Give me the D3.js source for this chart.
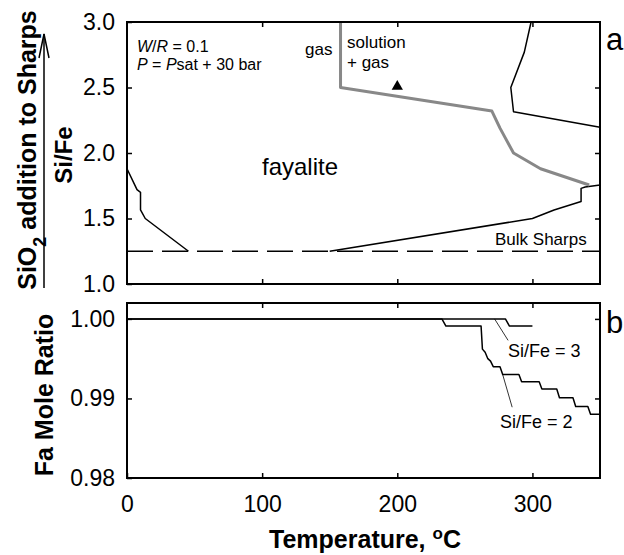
<!DOCTYPE html>
<html>
<head>
<meta charset="utf-8">
<script src="https://cdn.jsdelivr.net/npm/d3@7"></script>
<style>
body { margin: 0; background: #fff; }
svg text { font-family: "Liberation Sans", Arial, sans-serif; fill: #000; }
.axis path { display: none; }
.axis line { stroke: #000; stroke-width: 1.5; }
.axis text { font-size: 23px; }
</style>
</head>
<body>
<div class="chart"></div>
<script>
// temperature ticks and the two y scales
var tempTicks = [0, 100, 200, 300];
var siFeTicks = [1.0, 1.5, 2.0, 2.5, 3.0];
var faTicks = [0.98, 0.99, 1.00];

// panel a: phase boundaries, [T, Si/Fe]
var lowTBoundary = [[0, 1.88], [7.4, 1.72], [10, 1.70], [10, 1.565], [13.5, 1.50], [45.5, 1.25]];
var highTBoundary = [[150, 1.25], [300, 1.50], [316, 1.565], [336, 1.63], [336, 1.73], [339, 1.74], [350, 1.756]];
var upperBoundary = [[299, 3.0], [294, 2.77], [284, 2.50], [286, 2.315], [350, 2.196]];
var gasBoundary = [[158, 3.0], [158, 2.50], [270, 2.32], [276, 2.19], [286, 2.0], [306, 1.88], [342, 1.756]];
var bulkSharps = 1.25;
var samplePoint = [[200, 2.5]];

// panel b: fayalite mole ratio, [T, ratio]
var faSiFe2 = [[0, 1.000], [233, 1.000], [236, 0.9991], [262, 0.9991], [263, 0.9962], [265, 0.9958],
               [267, 0.9950], [269, 0.9947], [271, 0.9940], [276, 0.9940], [278, 0.9930], [290, 0.9930],
               [292, 0.9921], [305, 0.9921], [307, 0.9912], [318, 0.9912], [320, 0.9901], [330, 0.9901],
               [332, 0.9890], [341, 0.9890], [343, 0.9880], [350, 0.9880]];
var faSiFe3 = [[0, 1.000], [280, 1.000], [283, 0.9991], [300, 0.9991]];
var leader3 = [[272, 1.000], [282, 0.9973]];
var leader2 = [[278, 0.9930], [285, 0.9889]];

var W = 624, H = 555;
var svg = d3.select(".chart").append("svg")
            .attr("width", W)
            .attr("height", H);

var x = d3.scaleLinear().domain([0, 350]).range([127, 600]);
var yTop = d3.scaleLinear().domain([1, 3]).range([284, 22]);
var yBot = d3.scaleLinear().domain([0.98, 1.002]).range([478, 303]);

function drawFrame(y) {
	var r = y.range();
	svg.append("rect")
	   .attr("x", x.range()[0])
	   .attr("y", r[1])
	   .attr("width", x.range()[1] - x.range()[0])
	   .attr("height", r[0] - r[1])
	   .style("fill", "none")
	   .style("stroke", "#000")
	   .style("stroke-width", 2);
}

function drawLine(data, y, color, width, dash) {
	var line = d3.line().x(function(d) { return x(d[0]); }).y(function(d) { return y(d[1]); });
	svg.append("path")
	   .datum(data)
	   .attr("d", line)
	   .style("fill", "none")
	   .style("stroke", color)
	   .style("stroke-width", width)
	   .style("stroke-dasharray", dash || null)
	   .style("stroke-linejoin", "round");
}

// ---- panel a ----
var yr = yTop.range();
svg.append("g").attr("class", "axis")
   .attr("transform", "translate(127,0)")
   .call(d3.axisLeft(yTop).tickValues(siFeTicks).tickSize(-5).tickPadding(12).tickFormat(d3.format(".1f")));
svg.append("g").attr("class", "axis")
   .attr("transform", "translate(600,0)")
   .call(d3.axisRight(yTop).tickValues([1.5, 2.0, 2.5]).tickSize(-5).tickFormat(""));
svg.append("g").attr("class", "axis")
   .attr("transform", "translate(0," + yr[1] + ")")
   .call(d3.axisTop(x).tickValues([100, 200, 300]).tickSize(-5).tickFormat(""));
svg.append("g").attr("class", "axis")
   .attr("transform", "translate(0," + yr[0] + ")")
   .call(d3.axisBottom(x).tickValues([100, 200, 300]).tickSize(-5).tickFormat(""));

drawLine([[0, bulkSharps], [350, bulkSharps]], yTop, "#000", 1.3, "26,9");
drawLine(lowTBoundary, yTop, "#000", 1.5);
drawLine(highTBoundary, yTop, "#000", 1.5);
drawLine(upperBoundary, yTop, "#000", 1.5);
drawLine(gasBoundary, yTop, "#888", 3);

svg.selectAll(".sample")
   .data(samplePoint)
   .enter().append("path")
   .attr("class", "sample")
   .attr("transform", function(d) { return "translate(" + x(d[0]) + "," + (yTop(d[1]) - 1) + ")"; })
   .attr("d", d3.symbol().type(d3.symbolTriangle).size(55))
   .style("fill", "#000");

drawFrame(yTop);

svg.append("text").attr("x", 137).attr("y", 52).style("font-size", "16px")
   .html('<tspan font-style="italic">W</tspan>/<tspan font-style="italic">R</tspan> = 0.1');
svg.append("text").attr("x", 137).attr("y", 70).style("font-size", "16px")
   .html('<tspan font-style="italic">P</tspan> = <tspan font-style="italic">P</tspan>sat + 30 bar');
svg.append("text").attr("x", 305).attr("y", 55).style("font-size", "17px").text("gas");
svg.append("text").attr("x", 347).attr("y", 48).style("font-size", "17px").text("solution");
svg.append("text").attr("x", 347).attr("y", 68).style("font-size", "17px").text("+ gas");
svg.append("text").attr("x", 262).attr("y", 175).style("font-size", "24px").text("fayalite");
svg.append("text").attr("x", 495).attr("y", 245).style("font-size", "17px").text("Bulk Sharps");
svg.append("text").attr("x", 606).attr("y", 50).style("font-size", "31px").text("a");

// ---- panel b ----
var br = yBot.range();
svg.append("g").attr("class", "axis")
   .attr("transform", "translate(127,0)")
   .call(d3.axisLeft(yBot).tickValues(faTicks).tickSize(-5).tickPadding(12).tickFormat(d3.format(".2f")));
svg.append("g").attr("class", "axis")
   .attr("transform", "translate(600,0)")
   .call(d3.axisRight(yBot).tickValues([0.99, 1.00]).tickSize(-5).tickFormat(""));
svg.append("g").attr("class", "axis")
   .attr("transform", "translate(0," + br[1] + ")")
   .call(d3.axisTop(x).tickValues([100, 200, 300]).tickSize(-5).tickFormat(""));
svg.append("g").attr("class", "axis")
   .attr("transform", "translate(0," + br[0] + ")")
   .call(d3.axisBottom(x).tickValues(tempTicks).tickSize(-5).tickPadding(18));

drawLine(faSiFe3, yBot, "#000", 1.5);
drawLine(faSiFe2, yBot, "#000", 1.5);
drawLine(leader3, yBot, "#000", 0.8);
drawLine(leader2, yBot, "#000", 0.8);
drawFrame(yBot);

svg.append("text").attr("x", 508).attr("y", 357).style("font-size", "18px").text("Si/Fe = 3");
svg.append("text").attr("x", 500).attr("y", 428).style("font-size", "18px").text("Si/Fe = 2");
svg.append("text").attr("x", 606).attr("y", 333).style("font-size", "31px").text("b");

// ---- axis titles ----
svg.append("text")
   .attr("x", 365).attr("y", 548)
   .attr("text-anchor", "middle")
   .style("font-size", "25px").style("font-weight", "bold")
   .html('Temperature, <tspan baseline-shift="super" font-size="17px">o</tspan>C');
svg.append("text")
   .attr("transform", "translate(72,155) rotate(-90)")
   .attr("text-anchor", "middle")
   .style("font-size", "24px").style("font-weight", "bold")
   .text("Si/Fe");
svg.append("text")
   .attr("transform", "translate(53,395) rotate(-90)")
   .attr("text-anchor", "middle")
   .style("font-size", "25px").style("font-weight", "bold")
   .text("Fa Mole Ratio");
svg.append("text")
   .attr("transform", "translate(36,150) rotate(-90)")
   .attr("text-anchor", "middle")
   .style("font-size", "25px").style("font-weight", "bold")
   .html('SiO<tspan baseline-shift="sub" font-size="18px">2</tspan> addition to Sharps');

// arrow beside the SiO2 label
svg.append("line")
   .attr("x1", 44).attr("y1", 288).attr("x2", 44).attr("y2", 34)
   .style("stroke", "#000").style("stroke-width", 1.5);
svg.append("path")
   .attr("d", "M39,58L44,34L49,58")
   .style("fill", "none").style("stroke", "#000").style("stroke-width", 1.5);
</script>
</body>
</html>
